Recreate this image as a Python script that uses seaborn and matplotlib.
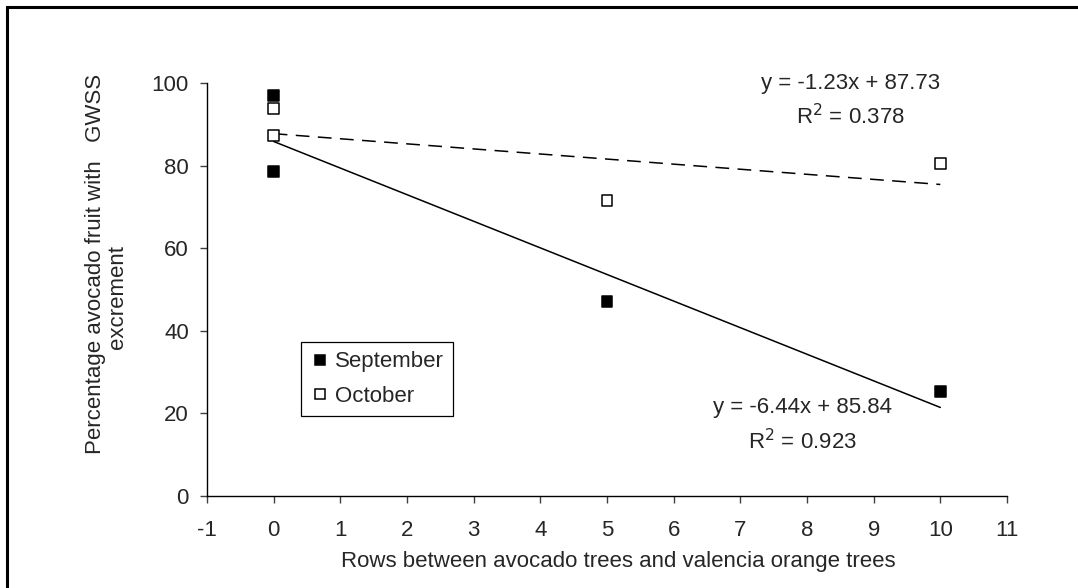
import numpy as np
import pandas as pd
import matplotlib
matplotlib.use("Agg")
import matplotlib.pyplot as plt
from matplotlib.patches import Rectangle
import seaborn as sns

# Datos
rows = [0, 0, 5, 10]
september = [97.0, 78.5, 47.2, 25.2]
october_rows = [0, 0, 5, 10]
october = [93.9, 87.2, 71.6, 80.6]

# Rectas de regresion publicadas
fit_slope = {'September': -6.44, 'October': -1.23}
fit_intercept = {'September': 85.84, 'October': 87.73}
fit_r2 = {'September': 0.923, 'October': 0.378}
fit_x = [0, 10]

x_ticks = list(range(-1, 12))
y_ticks = [0, 20, 40, 60, 80, 100]

df = pd.DataFrame({
    'rows': rows + october_rows,
    'pct': september + october,
    'month': ['September'] * len(rows) + ['October'] * len(october_rows),
})

fit_rows = []
for m in ['September', 'October']:
    for xv in fit_x:
        fit_rows.append({'rows': xv, 'pct': fit_slope[m] * xv + fit_intercept[m], 'month': m})
fit_df = pd.DataFrame(fit_rows)

sns.set_style("white")
plt.rcParams['font.family'] = ['Liberation Sans', 'DejaVu Sans']
plt.rcParams['axes.unicode_minus'] = False
fs = 16

fig = plt.figure(figsize=(10.78, 5.88), dpi=100)
ax = fig.add_axes([207 / 1078, 1 - 496 / 588, 800 / 1078, 413 / 588])

# lineas de tendencia
sept_fit = fit_df[fit_df['month'] == 'September']
oct_fit = fit_df[fit_df['month'] == 'October']
sns.lineplot(data=sept_fit, x='rows', y='pct', ax=ax, color='black', lw=1.1, zorder=2)
sns.lineplot(data=oct_fit, x='rows', y='pct', ax=ax, color='black', lw=1.1,
             dashes=False, zorder=2).lines[-1].set_dashes((9, 5.5))

sns.scatterplot(data=df, x='rows', y='pct', hue='month', marker='s', s=62,
                palette={'September': 'black', 'October': 'white'},
                edgecolor='black', linewidth=1.1, ax=ax, zorder=3)

ax.set_xlim(-1, 11)
ax.set_ylim(0, 100)
ax.set_xticks(x_ticks)
ax.set_yticks(y_ticks)
ax.tick_params(axis='both', labelsize=fs, direction='out', length=5, width=1,
               color='#404040', bottom=True, left=True)
ax.tick_params(axis='x', pad=12)
ax.tick_params(axis='y', pad=8)
for s in ['top', 'right']:
    ax.spines[s].set_visible(False)
for s in ['left', 'bottom']:
    ax.spines[s].set_color('black')
    ax.spines[s].set_linewidth(1)

ax.set_xlabel('Rows between avocado trees and valencia orange trees', fontsize=fs)
ax.xaxis.set_label_coords(0.514, -0.133)
# la segunda linea va algo desplazada hacia abajo en el original
ax.set_ylabel('Percentage avocado fruit with   GWSS\nexcrement' + ' ' * 11, fontsize=fs,
              linespacing=1.1)
ax.yaxis.set_label_coords(-0.098, 0.562)

# ecuaciones
ax.text(8.65, 100, f"y = {fit_slope['October']:.2f}x + {fit_intercept['October']:.2f}",
        fontsize=fs, ha='center', va='center')
ax.text(8.65, 91.8, f"R$^2$ = {fit_r2['October']:.3f}", fontsize=fs, ha='center', va='center')
ax.text(7.93, 21.5, f"y = {fit_slope['September']:.2f}x + {fit_intercept['September']:.2f}",
        fontsize=fs, ha='center', va='center')
ax.text(7.93, 13.1, f"R$^2$ = {fit_r2['September']:.3f}", fontsize=fs, ha='center', va='center')

leg = ax.legend(loc='upper left', bbox_to_anchor=(0.1175, 0.373), fontsize=fs,
                frameon=True, fancybox=False, edgecolor='black', framealpha=1,
                handletextpad=0.2, borderpad=0.42, labelspacing=0.62,
                handlelength=0.9, borderaxespad=0, markerscale=0.85)
leg.get_frame().set_linewidth(0.9)

# marco exterior
fig.patches.append(Rectangle((7 / 1078, -0.1), 1.2, 1.1 - 7 / 588, transform=fig.transFigure,
                             fill=False, edgecolor='black', linewidth=2.2))

fig.savefig('out.png', dpi=100)
